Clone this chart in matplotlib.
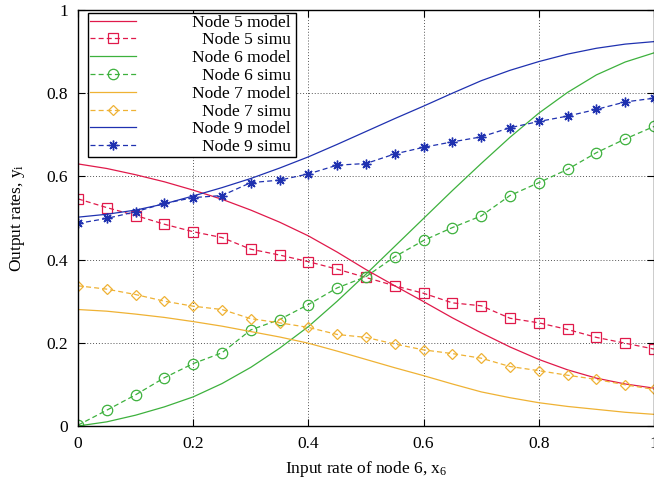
import matplotlib
matplotlib.use("Agg")
import matplotlib.pyplot as plt
from matplotlib.ticker import FormatStrFormatter

plt.rcParams["font.family"] = ["Liberation Serif", "DejaVu Serif"]
plt.rcParams["mathtext.fontset"] = "custom"
plt.rcParams["mathtext.rm"] = "Liberation Serif"
plt.rcParams["mathtext.it"] = "Liberation Serif"

# model curves, read every 0.05
x_model = [0.0, 0.05, 0.1, 0.15, 0.2, 0.25, 0.3, 0.35, 0.4, 0.45, 0.5,
           0.55, 0.6, 0.65, 0.7, 0.75, 0.8, 0.85, 0.9, 0.95, 1.0]
node5_model = [0.630, 0.619, 0.604, 0.587, 0.567, 0.545, 0.519, 0.490, 0.457, 0.418, 0.376,
               0.337, 0.299, 0.260, 0.224, 0.190, 0.160, 0.135, 0.115, 0.101, 0.091]
node6_model = [0.0, 0.010, 0.026, 0.046, 0.070, 0.102, 0.141, 0.187, 0.239, 0.300, 0.365,
               0.432, 0.499, 0.566, 0.631, 0.694, 0.752, 0.802, 0.844, 0.875, 0.897]
node7_model = [0.280, 0.276, 0.269, 0.261, 0.251, 0.240, 0.227, 0.214, 0.199, 0.180, 0.160,
               0.140, 0.121, 0.101, 0.082, 0.068, 0.056, 0.047, 0.040, 0.033, 0.028]
node9_model = [0.502, 0.509, 0.519, 0.534, 0.553, 0.573, 0.595, 0.620, 0.647, 0.677, 0.708,
               0.739, 0.769, 0.800, 0.830, 0.855, 0.876, 0.894, 0.908, 0.918, 0.924]

# simulation points
x_simu = x_model
node5_simu = [0.546, 0.525, 0.506, 0.485, 0.467, 0.453, 0.425, 0.411, 0.395, 0.377, 0.357,
              0.337, 0.319, 0.296, 0.289, 0.259, 0.248, 0.232, 0.213, 0.199, 0.185]
node6_simu = [0.002, 0.038, 0.075, 0.116, 0.150, 0.176, 0.231, 0.256, 0.292, 0.332, 0.359,
              0.407, 0.446, 0.477, 0.505, 0.554, 0.585, 0.617, 0.657, 0.690, 0.720]
node7_simu = [0.337, 0.329, 0.316, 0.300, 0.288, 0.280, 0.258, 0.248, 0.237, 0.220, 0.213,
              0.197, 0.183, 0.174, 0.163, 0.143, 0.133, 0.122, 0.112, 0.099, 0.088]
node9_simu = [0.487, 0.499, 0.515, 0.535, 0.549, 0.554, 0.585, 0.591, 0.606, 0.627, 0.631,
              0.654, 0.670, 0.683, 0.695, 0.717, 0.732, 0.745, 0.761, 0.779, 0.788]

RED = "#e0194a"
GREEN = "#3db13d"
ORANGE = "#efb234"
BLUE = "#1f31b0"

fig = plt.figure(figsize=(6.54, 4.82), dpi=100)
ax = fig.add_axes([78 / 654, 1 - 426 / 482, 576 / 654, 416 / 482])

dash = (0, (4, 2.5))
ms = 7.5
ax.plot(x_model, node5_model, color=RED, lw=0.9, label="Node 5 model")
ax.plot(x_simu, node5_simu, color=RED, lw=0.9, ls=dash, marker="s", ms=ms,
        mfc="none", mew=0.9, label="Node 5 simu")
ax.plot(x_model, node6_model, color=GREEN, lw=0.9, label="Node 6 model")
ax.plot(x_simu, node6_simu, color=GREEN, lw=0.9, ls=dash, marker="o", ms=ms,
        mfc="none", mew=0.9, label="Node 6 simu")
ax.plot(x_model, node7_model, color=ORANGE, lw=0.9, label="Node 7 model")
ax.plot(x_simu, node7_simu, color=ORANGE, lw=0.9, ls=dash, marker="D", ms=ms - 2,
        mfc="none", mew=0.9, label="Node 7 simu")
ax.plot(x_model, node9_model, color=BLUE, lw=0.9, label="Node 9 model")
ax.plot(x_simu, node9_simu, color=BLUE, lw=0.9, ls=dash, marker=(8, 2, 0), ms=7,
        mew=1.0, label="Node 9 simu")

ax.set_xlim(0, 1)
ax.set_ylim(0, 1)
ax.set_xticks([0, 0.2, 0.4, 0.6, 0.8, 1.0])
ax.set_yticks([0, 0.2, 0.4, 0.6, 0.8, 1.0])
ax.xaxis.set_major_formatter(FormatStrFormatter("%g"))
ax.yaxis.set_major_formatter(FormatStrFormatter("%g"))
ax.tick_params(direction="in", top=True, right=True, length=5, width=0.8,
               labelsize=12.5, pad=7)
ax.grid(True, color="#555555", lw=0.7, ls=(0, (1, 2)))
for s in ax.spines.values():
    s.set_linewidth(1.0)

ax.set_xlabel("Input rate of node 6, x$_6$", fontsize=12.5, labelpad=5)
ax.set_ylabel("Output rates, y$_\\mathrm{i}$", fontsize=12.5, labelpad=14)

leg = ax.legend(loc="upper left", bbox_to_anchor=(10.3 / 576, 1 - 2.7 / 416),
                borderaxespad=0, fontsize=12.5, frameon=True, fancybox=False,
                edgecolor="black", framealpha=1, handlelength=2.65,
                handletextpad=3.45, labelspacing=0.095, borderpad=0.1)
leg.get_frame().set_linewidth(1.0)

# right-align legend labels like gnuplot
fig.canvas.draw()
widths = [t.get_window_extent().width for t in leg.get_texts()]
maxw = max(widths)
for t, w in zip(leg.get_texts(), widths):
    t.set_position((maxw - w - 4, 0))

fig.savefig("out.png", dpi=100)
